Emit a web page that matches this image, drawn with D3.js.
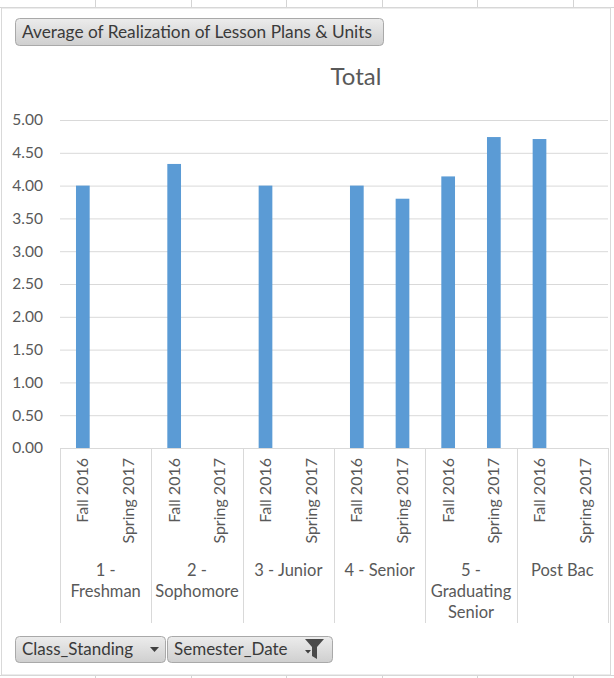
<!DOCTYPE html>
<html><head><meta charset="utf-8">
<script src="https://cdn.jsdelivr.net/npm/d3@7"></script>
<style>html,body{margin:0;padding:0;background:#fff;}svg{display:block;}</style>
</head><body>
<script>
// ---- data ----
const categories = ["1 - Freshman","2 - Sophomore","3 - Junior","4 - Senior","5 - Graduating Senior","Post Bac"];
const categoryLines = [["1 -","Freshman"],["2 -","Sophomore"],["3 - Junior"],["4 - Senior"],["5 -","Graduating","Senior"],["Post Bac"]];
const semesters = ["Fall 2016","Spring 2017"];
const fall2016 = [4.00, 4.33, 4.00, 4.00, 4.14, 4.71];
const spring2017 = [null, null, null, 3.80, 4.74, null];
const yTicks = [0,0.5,1,1.5,2,2.5,3,3.5,4,4.5,5];
const title = "Total";
const valueButton = "Average of Realization of Lesson Plans & Units";
const axisButtons = ["Class_Standing","Semester_Date"];

const W = 614, H = 678;
const FONT = "Lato, 'Liberation Sans', sans-serif";
const svg = d3.select("body").append("svg").attr("width", W).attr("height", H);

// spreadsheet background cells
const colX = [95,191,286,382,477,573];
svg.append("line").attr("x1",0).attr("x2",W).attr("y1",7.5).attr("y2",7.5).attr("stroke","#d4d4d4");
svg.append("line").attr("x1",0).attr("x2",W).attr("y1",675.5).attr("y2",675.5).attr("stroke","#d4d4d4");
colX.forEach(x=>{
  svg.append("line").attr("x1",x+.5).attr("x2",x+.5).attr("y1",0).attr("y2",7).attr("stroke","#d4d4d4");
  svg.append("line").attr("x1",x+.5).attr("x2",x+.5).attr("y1",676).attr("y2",H).attr("stroke","#d4d4d4");
});
// chart area
svg.append("rect").attr("x",1.5).attr("y",8).attr("width",609).attr("height",667).attr("fill","#fff").attr("stroke","#d9d9d9");

const defs = svg.append("defs");
const grad = defs.append("linearGradient").attr("id","btn").attr("x1",0).attr("x2",0).attr("y1",0).attr("y2",1);
grad.append("stop").attr("offset","0%").attr("stop-color","#ececec");
grad.append("stop").attr("offset","100%").attr("stop-color","#cfcfcf");

function button(x,y,w,h,text,size){
  const g = svg.append("g");
  g.append("rect").attr("x",x+.5).attr("y",y+.5).attr("width",w).attr("height",h).attr("rx",4)
    .attr("fill","url(#btn)").attr("stroke","#a9a9a9");
  g.append("text").attr("x",x+7).attr("y",y+h/2+6).attr("font-family",FONT).attr("font-size",size)
    .attr("fill","#3a3a3a").text(text);
  return g;
}
button(15,18,368,27,valueButton,17.3);
const b1 = button(15,636,150,26,axisButtons[0],17);
b1.append("path").attr("d","M150,647 L159,647 L154.5,652 Z").attr("fill","#404040");
const b2 = button(167,636,165,26,axisButtons[1],17);
b2.append("path").attr("d","M305,650 L311,650 L308,653.5 Z").attr("fill","#404040");
b2.append("path").attr("d","M305,639 L324,639 L317,647 L317,659 L312,656 L312,647 Z").attr("fill","#4a4a4a");

// title
svg.append("text").attr("x",356).attr("y",85).attr("text-anchor","middle").attr("font-family",FONT)
  .attr("font-size",24).attr("fill","#595959").text(title);

// scales
const x0 = d3.scaleBand().domain(categories).range([60,608]).padding(0);
const x1 = d3.scaleBand().domain(semesters).range([0,x0.bandwidth()]).padding(0);
const y = d3.scaleLinear().domain([0,5]).range([448,120]);
const barW = x1.bandwidth()*0.30;

// gridlines + y labels
const yAxis = d3.axisLeft(y).tickValues(yTicks).tickFormat(d3.format(".2f")).tickSize(-548).tickPadding(17);
const gy = svg.append("g").attr("transform","translate(60,0)").call(yAxis);
gy.select(".domain").remove();
gy.selectAll(".tick line").attr("stroke","#d9d9d9").attr("stroke-width",1);
gy.selectAll(".tick text").attr("font-family",FONT).attr("font-size",15.5).attr("fill","#595959");

// bars
const rows = [];
categories.forEach((c,i)=>{
  rows.push({cat:c, sem:semesters[0], v:fall2016[i]});
  rows.push({cat:c, sem:semesters[1], v:spring2017[i]});
});
svg.append("g").selectAll("rect").data(rows.filter(d=>d.v!=null)).join("rect")
  .attr("x",d=>x0(d.cat)+x1(d.sem)+x1.bandwidth()/2-barW/2)
  .attr("width",barW)
  .attr("y",d=>y(d.v))
  .attr("height",d=>y(0)-y(d.v))
  .attr("fill","#5b9bd5");

// baseline axis
svg.append("line").attr("x1",60).attr("x2",608).attr("y1",y(0)+.5).attr("y2",y(0)+.5).attr("stroke","#d9d9d9");

// group separators
const seps = categories.map(c=>x0(c)).concat([x0.range()[1]]);
svg.append("g").selectAll("line").data(seps).join("line")
  .attr("x1",d=>Math.round(d)+.5).attr("x2",d=>Math.round(d)+.5)
  .attr("y1",y(0)).attr("y2",623).attr("stroke","#d9d9d9");

// semester labels (rotated)
svg.append("g").selectAll("text").data(rows).join("text")
  .attr("transform",d=>`translate(${x0(d.cat)+x1(d.sem)+x1.bandwidth()/2+5.5},458) rotate(-90)`)
  .attr("text-anchor","end").attr("font-family",FONT).attr("font-size",16).attr("fill","#595959")
  .text(d=>d.sem);

// category labels
categories.forEach((c,i)=>{
  const t = svg.append("text").attr("text-anchor","middle").attr("font-family",FONT)
    .attr("font-size",16.5).attr("fill","#595959");
  categoryLines[i].forEach((ln,j)=>{
    t.append("tspan").attr("x",x0(c)+x0.bandwidth()/2).attr("y",576+j*21).text(ln);
  });
});
</script>
</body></html>
